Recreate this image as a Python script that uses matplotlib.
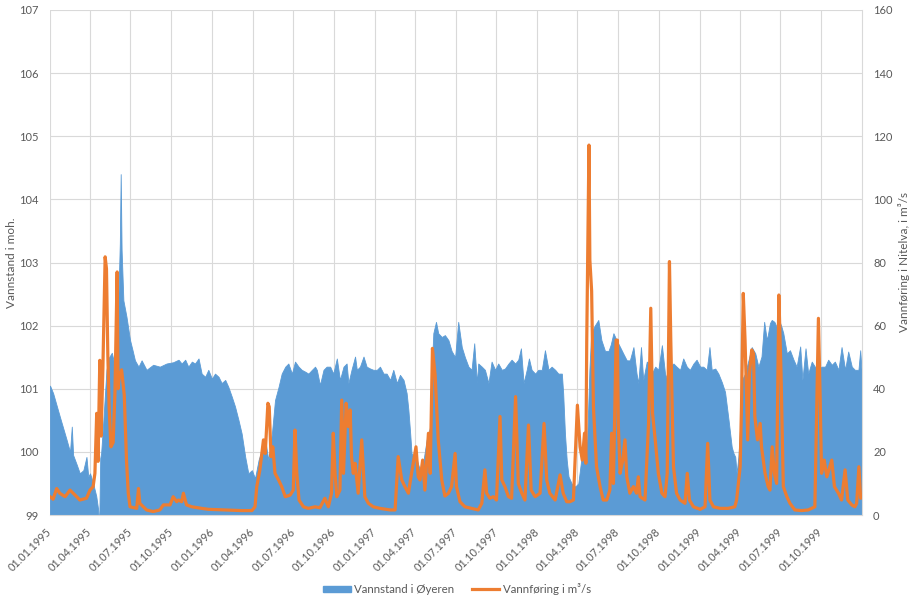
import matplotlib
matplotlib.use("Agg")
import matplotlib.pyplot as plt
from matplotlib.patches import Patch
from matplotlib.lines import Line2D
import pandas as pd

plt.rcParams['font.family'] = ['Lato', 'DejaVu Sans']

START = '1995-01-01'   # day offsets below count from this date

# Vannstand i Øyeren (moh.): (day offset, value)
level_1995 = [(0, 101.05), (7, 100.93), (22, 100.56), (37, 100.2), (45, 100.0), (49, 100.4),
              (52, 99.95), (60, 99.8), (67, 99.66), (75, 99.71), (82, 99.92), (86, 99.61),
              (90, 99.66), (97, 99.5), (104, 99.3), (108, 99.1), (109, 99.0), (111, 99.0),
              (113, 99.9), (115, 99.98), (120, 100.5), (127, 101.3), (133, 101.5), (139, 101.57),
              (146, 101.35), (150, 101.7), (154, 102.5), (157, 103.3), (159, 104.4), (161, 103.2),
              (165, 102.4), (172, 102.14), (180, 101.77), (186, 101.6), (191, 101.45),
              (199, 101.35), (206, 101.45), (217, 101.3), (232, 101.38), (247, 101.35),
              (262, 101.4), (277, 101.42), (289, 101.46), (296, 101.4), (304, 101.46),
              (311, 101.35), (319, 101.43), (326, 101.4), (334, 101.48), (341, 101.24),
              (349, 101.19), (356, 101.3), (364, 101.16)]
level_1996 = [(371, 101.24), (379, 101.19), (386, 101.09), (394, 101.14), (401, 101.03),
              (409, 100.87), (416, 100.72), (424, 100.5), (431, 100.29), (439, 99.92),
              (446, 99.66), (454, 99.71), (461, 99.58), (469, 99.87), (476, 100.03),
              (484, 100.19), (491, 99.87), (499, 100.29), (506, 100.82), (514, 101.03),
              (521, 101.24), (529, 101.35), (536, 101.4), (544, 101.24), (551, 101.43),
              (559, 101.35), (566, 101.3), (574, 101.27), (581, 101.24), (589, 101.3),
              (596, 101.35), (600, 101.3), (607, 101.06), (615, 101.3), (622, 101.35),
              (630, 101.35), (637, 101.24), (645, 101.48), (652, 101.14), (660, 101.35),
              (667, 101.4), (671, 101.09), (678, 101.3), (686, 101.51), (690, 101.3),
              (697, 101.35), (705, 101.51), (712, 101.35), (720, 101.32), (727, 101.3)]
level_1997 = [(735, 101.3), (742, 101.35), (750, 101.24), (757, 101.24), (765, 101.14),
              (772, 101.3), (780, 101.09), (787, 101.22), (795, 101.14), (802, 100.93),
              (806, 100.66), (810, 100.29), (813, 99.98), (817, 99.92), (825, 99.87),
              (832, 99.71), (840, 99.87), (847, 100.19), (855, 100.4), (858, 101.24),
              (862, 101.88), (868, 102.06), (873, 101.88), (881, 101.82), (888, 101.85),
              (896, 101.77), (903, 101.6), (911, 101.5), (918, 102.06), (926, 101.66),
              (933, 101.5), (941, 101.35), (948, 101.3), (954, 101.72), (960, 101.09),
              (963, 101.4), (971, 101.35), (978, 101.3), (986, 101.09), (993, 101.43),
              (1001, 101.3), (1008, 101.4), (1016, 101.3), (1023, 101.32), (1031, 101.4),
              (1038, 101.46), (1046, 101.4), (1053, 101.46), (1059, 101.64), (1065, 101.09),
              (1072, 101.3), (1077, 101.48), (1083, 101.3), (1091, 101.24)]
level_1998 = [(1098, 101.3), (1106, 101.3), (1113, 101.61), (1121, 101.3), (1128, 101.35),
              (1136, 101.3), (1143, 101.24), (1151, 101.24), (1154, 100.93), (1158, 100.29),
              (1162, 99.87), (1166, 99.61), (1173, 99.5), (1181, 99.45), (1188, 99.5),
              (1196, 99.95), (1203, 100.05), (1208, 100.2), (1213, 101.3), (1217, 101.88),
              (1225, 102.0), (1233, 102.09), (1240, 101.77), (1248, 101.6), (1256, 101.6),
              (1261, 101.7), (1267, 101.88), (1274, 101.77), (1282, 101.66), (1289, 101.56),
              (1297, 101.45), (1304, 101.45), (1312, 101.66), (1319, 101.24), (1323, 101.09),
              (1329, 101.66), (1334, 101.14), (1342, 101.43), (1349, 101.4), (1353, 101.24),
              (1361, 101.35), (1368, 101.3), (1376, 101.69), (1383, 101.24), (1388, 101.14),
              (1394, 101.35), (1402, 101.4), (1409, 101.35), (1417, 101.3), (1424, 101.48),
              (1432, 101.35), (1439, 101.3), (1447, 101.4), (1454, 101.46)]
level_1999 = [(1462, 101.35), (1469, 101.35), (1477, 101.3), (1483, 101.66), (1488, 101.3),
              (1496, 101.32), (1503, 101.24), (1511, 101.1), (1518, 100.95), (1526, 100.5),
              (1533, 100.08), (1537, 99.98), (1541, 99.92), (1544, 99.66), (1548, 99.92),
              (1552, 100.4), (1556, 101.14), (1563, 101.24), (1571, 101.46), (1578, 101.66),
              (1586, 101.56), (1593, 101.35), (1600, 101.51), (1606, 102.06), (1612, 101.77),
              (1615, 101.88), (1619, 102.04), (1623, 102.09), (1629, 102.06), (1634, 101.98),
              (1642, 102.04), (1645, 101.98), (1649, 101.88), (1657, 101.56), (1664, 101.61),
              (1672, 101.46), (1679, 101.35), (1687, 101.67), (1692, 101.14), (1699, 101.64),
              (1705, 101.24), (1713, 101.43), (1720, 101.35), (1728, 101.3), (1735, 101.35),
              (1743, 101.35), (1750, 101.46), (1758, 101.38), (1765, 101.43), (1773, 101.3),
              (1780, 101.66), (1788, 101.3), (1795, 101.59), (1803, 101.35), (1810, 101.3),
              (1818, 101.3), (1822, 101.61), (1825, 101.3)]

# Vannføring i Nitelva (m3/s): (day offset, value)
flow_1995 = [(0, 5.8), (7, 5.0), (15, 8.4), (22, 6.9), (34, 5.8), (45, 7.9), (60, 5.8),
             (67, 4.75), (82, 5.3), (90, 7.9), (97, 9.0), (101, 13.2), (105, 32.2), (108, 17.0),
             (112, 49.0), (115, 25.0), (119, 47.0), (124, 81.8), (127, 78.0), (130, 51.0),
             (133, 34.0), (137, 21.6), (142, 23.0), (146, 38.6), (151, 77.0), (153, 40.0),
             (155, 43.0), (161, 46.0), (167, 38.0), (172, 17.4), (176, 6.9), (180, 2.6),
             (195, 2.1), (199, 8.4), (202, 3.7), (217, 1.6), (232, 1.1), (247, 1.6), (255, 3.2),
             (270, 3.2), (277, 5.8), (285, 4.2), (289, 4.75), (296, 4.2), (300, 6.9), (307, 3.2),
             (319, 2.6), (341, 2.1), (356, 1.8)]
flow_1996 = [(394, 1.6), (431, 1.4), (454, 1.4), (461, 2.6), (465, 9.0), (472, 14.3),
             (480, 23.8), (484, 19.5), (490, 35.4), (493, 34.3), (497, 18.5), (501, 21.6),
             (506, 13.2), (514, 11.1), (521, 9.0), (529, 5.8), (540, 6.3), (547, 7.9),
             (551, 26.9), (555, 13.2), (560, 4.75), (570, 2.6), (581, 2.1), (596, 2.6),
             (607, 2.3), (618, 5.3), (626, 2.6), (633, 6.9), (637, 25.9), (641, 13.2),
             (645, 5.8), (652, 7.9), (656, 36.4), (660, 13.2), (666, 35.4), (671, 28.0),
             (675, 33.3), (678, 18.5), (682, 13.2), (686, 16.4), (693, 6.9), (701, 23.8),
             (705, 13.2), (708, 5.8), (716, 3.7), (727, 2.6)]
flow_1997 = [(742, 2.1), (765, 1.6), (776, 1.6), (783, 18.5), (791, 11.1), (798, 9.0),
             (806, 6.9), (813, 13.2), (823, 21.6), (828, 12.1), (832, 11.1), (838, 17.4),
             (843, 7.9), (851, 25.9), (855, 13.2), (860, 52.8), (866, 44.4), (873, 23.8),
             (881, 11.1), (888, 6.0), (896, 6.9), (903, 9.0), (911, 19.5), (914, 9.0),
             (922, 4.2), (933, 2.6), (948, 2.1), (963, 1.6), (971, 3.7), (978, 14.3),
             (982, 6.9), (989, 5.3), (997, 5.8), (1004, 4.75), (1012, 31.2), (1016, 11.1),
             (1023, 9.0), (1031, 5.8), (1038, 5.3), (1047, 37.5), (1053, 10.0), (1061, 6.9),
             (1068, 4.75), (1076, 28.5), (1082, 7.9), (1091, 5.8)]
flow_1998 = [(1102, 6.9), (1111, 29.0), (1117, 11.1), (1124, 6.9), (1136, 4.75), (1147, 12.7),
             (1154, 6.9), (1162, 4.2), (1169, 4.2), (1177, 4.75), (1186, 34.8), (1192, 21.6),
             (1197, 17.4), (1202, 25.9), (1205, 16.4), (1207, 55.0), (1212, 117.2),
             (1214, 80.8), (1218, 71.0), (1222, 34.3), (1226, 23.8), (1229, 15.3), (1237, 9.0),
             (1244, 4.75), (1252, 4.75), (1259, 7.9), (1263, 25.9), (1267, 10.0), (1273, 55.4),
             (1276, 55.4), (1278, 28.5), (1282, 13.2), (1288, 17.4), (1293, 23.8), (1297, 12.1),
             (1304, 6.9), (1312, 9.0), (1319, 6.9), (1323, 12.1), (1327, 5.8), (1338, 4.75),
             (1346, 29.0), (1351, 65.5), (1355, 32.2), (1361, 23.8), (1368, 13.2), (1376, 6.9),
             (1383, 5.8), (1388, 13.2), (1393, 80.3), (1396, 55.4), (1402, 15.3), (1409, 6.9),
             (1417, 4.75), (1428, 3.7), (1433, 13.2), (1438, 4.75), (1447, 2.6)]
flow_1999 = [(1462, 1.8), (1473, 2.6), (1479, 22.7), (1484, 4.75), (1492, 2.6), (1507, 2.1),
             (1518, 2.1), (1525, 2.1), (1540, 2.6), (1544, 4.75), (1552, 15.3), (1555, 34.3),
             (1559, 70.2), (1563, 55.4), (1569, 23.8), (1573, 44.9), (1578, 52.3), (1582, 51.2),
             (1585, 31.2), (1591, 23.8), (1597, 29.0), (1600, 21.6), (1608, 13.2), (1615, 9.0),
             (1619, 7.9), (1624, 21.6), (1629, 13.2), (1634, 10.0), (1639, 69.7), (1644, 44.4),
             (1649, 9.0), (1657, 5.8), (1664, 3.7), (1675, 1.6), (1690, 1.4), (1705, 1.6),
             (1720, 2.6), (1728, 62.3), (1732, 36.4), (1735, 13.2), (1741, 17.4), (1747, 12.1),
             (1758, 17.4), (1764, 9.0), (1773, 6.9), (1780, 4.75), (1788, 14.3), (1794, 4.75),
             (1803, 3.2), (1810, 2.6), (1814, 3.7), (1819, 15.3), (1823, 5.3), (1825, 5.8)]

left_ticks = [99, 100, 101, 102, 103, 104, 105, 106, 107]
right_ticks = [0, 20, 40, 60, 80, 100, 120, 140, 160]
level_label = 'Vannstand i Øyeren'
flow_label = 'Vannføring i m³/s'
left_title = 'Vannstand i moh.'
right_title = 'Vannføring i Nitelva, i m³/s'

BLUE = '#5B9BD5'
ORANGE = '#ED7D31'
TXT = '#595959'
GRID = '#D9D9D9'

level = level_1995 + level_1996 + level_1997 + level_1998 + level_1999
flow = flow_1995 + flow_1996 + flow_1997 + flow_1998 + flow_1999
start = pd.Timestamp(START)
level_dates = start + pd.to_timedelta([d for d, _ in level], unit='D')
level_vals = [v for _, v in level]
flow_dates = start + pd.to_timedelta([d for d, _ in flow], unit='D')
flow_vals = [v for _, v in flow]

fig = plt.figure(figsize=(9.14, 6.0), dpi=100)
ax = fig.add_axes([50 / 914, 85 / 600, 812 / 914, 505 / 600])
ax.fill_between(level_dates, 99, level_vals, color=BLUE, linewidth=0.6, edgecolor=BLUE, zorder=2)
ax.set_ylim(99, 107)
ax.set_yticks(left_ticks)
ax.set_xlim(pd.Timestamp('1995-01-01'), pd.Timestamp('2000-01-01'))
qt = pd.date_range('1995-01-01', '1999-10-01', freq='QS')
ax.set_xticks(qt)
ax.set_xticklabels([d.strftime('%d.%m.%Y') for d in qt], rotation=45, ha='right',
                   va='center', rotation_mode='anchor', fontsize=7.8)
ax.set_axisbelow(True)
ax.grid(True, color=GRID, linewidth=0.8, zorder=0)
ax.tick_params(axis='both', length=0, colors=TXT)
ax.tick_params(axis='x', pad=11)
ax.tick_params(axis='y', pad=8, labelsize=8)
for s in ['top', 'left']:
    ax.spines[s].set_visible(False)
ax.spines['right'].set_color(GRID)
ax.spines['bottom'].set_color(GRID)
ax.set_ylabel(left_title, color=TXT, fontsize=8.5)
ax.yaxis.set_label_coords(-0.0405, 0.5)

ax2 = ax.twinx()
ax2.plot(flow_dates, flow_vals, color=ORANGE, linewidth=2.3, solid_joinstyle='round', zorder=3)
ax2.set_ylim(0, 160)
ax2.set_yticks(right_ticks)
ax2.tick_params(axis='y', length=0, colors=TXT, labelsize=8, pad=8)
for s in ['top', 'left', 'right', 'bottom']:
    ax2.spines[s].set_visible(False)
ax2.set_ylabel(right_title, color=TXT, fontsize=8.5, labelpad=4)

handles = [Patch(facecolor=BLUE, edgecolor=BLUE),
           Line2D([0], [0], color=ORANGE, linewidth=2.3)]
fig.legend(handles, [level_label, flow_label], loc='center', ncol=2,
           bbox_to_anchor=(457 / 914, 1 - 589 / 600), frameon=False, fontsize=8.3,
           labelcolor=TXT, handlelength=2.4, handleheight=0.5, columnspacing=1.5,
           handletextpad=0.3)

fig.savefig('out.png', dpi=100)
